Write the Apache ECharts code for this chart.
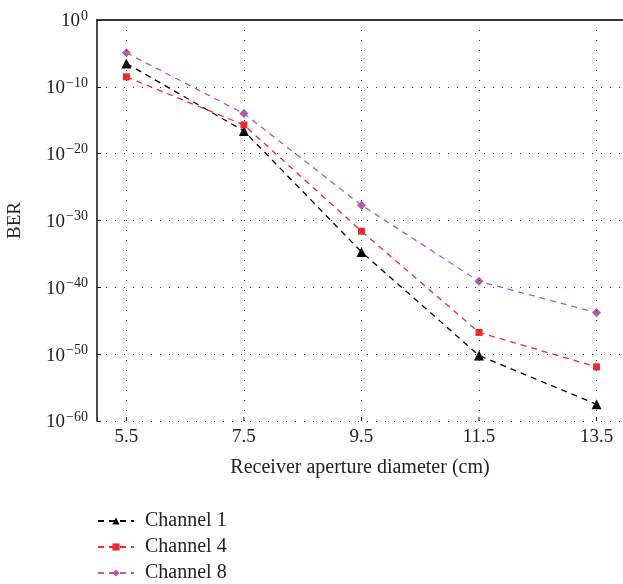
<!DOCTYPE html>
<html>
<head>
<meta charset="utf-8">
<script src="https://cdn.jsdelivr.net/npm/echarts@6/dist/echarts.min.js"></script>
<style>
  html, body { margin: 0; padding: 0; background: #fff; }
  #chart { width: 623px; height: 584px; }
</style>
</head>
<body>
<div id="chart"></div>
<script>
// Receiver aperture diameter (cm)
const diameters = [5.5, 7.5, 9.5, 11.5, 13.5];
// BER as log10 exponents per channel (the y axis is drawn in decades)
const channel1Exp = [-6.5, -16.6, -34.7, -50.2, -57.5];
const channel4Exp = [-8.5, -15.7, -31.6, -46.75, -51.9];
const channel8Exp = [-4.9, -14.0, -27.7, -39.1, -43.8];
const yTickExps = [0, -10, -20, -30, -40, -50, -60];

const serif = '"Liberation Serif", "DejaVu Serif", serif';
const textColor = '#222';
const toPairs = (exps) => diameters.map((d, i) => [d, exps[i]]);

const chart = echarts.init(document.getElementById('chart'), null, { renderer: 'canvas' });

function lineSeries(name, exps, color, symbol, size) {
  return {
    name: name,
    type: 'line',
    data: toPairs(exps),
    symbol: symbol,
    symbolSize: size,
    itemStyle: { color: color },
    lineStyle: { color: color, width: 1.3, type: [6, 5] },
    emphasis: { disabled: true },
    animation: false
  };
}

chart.setOption({
  backgroundColor: '#fff',
  animation: false,
  grid: { left: 97, top: 20, bottom: 163, right: 0, outerBoundsMode: 'none', containLabel: false },
  xAxis: [
    {
      type: 'value',
      min: 5, max: 13.95,
      name: 'Receiver aperture diameter (cm)',
      nameLocation: 'middle',
      nameGap: 37,
      nameTextStyle: { fontFamily: serif, fontSize: 20, color: textColor },
      axisLine: { lineStyle: { color: '#111', width: 1.5 } },
      axisTick: { show: false },
      splitLine: { show: false },
      axisLabel: { show: false }
    },
    {
      // top frame line
      type: 'value',
      position: 'top',
      min: 5, max: 13.95,
      axisLine: { show: true, lineStyle: { color: '#333', width: 1.5 } },
      axisTick: { show: false },
      splitLine: { show: false },
      axisLabel: { show: false }
    }
  ],
  yAxis: {
    type: 'value',
    min: -60, max: 0,
    interval: 10,
    name: 'BER',
    nameLocation: 'middle',
    nameGap: 72,
    nameTextStyle: { fontFamily: serif, fontSize: 19, color: textColor },
    axisLine: { show: true, lineStyle: { color: '#111', width: 1.5 } },
    axisTick: { show: true, inside: true, length: 4, lineStyle: { color: '#111' } },
    splitLine: { show: true, lineStyle: { color: '#333', width: 1, type: [1, 8] } },
    axisLabel: {
      margin: 9,
      formatter: function (e) {
        if (yTickExps.indexOf(e) < 0) return '';
        return '{b|10}{s|' + (e < 0 ? '\u2212' + (-e) : e) + '}';
      },
      rich: {
        b: { fontFamily: serif, fontSize: 19, color: textColor, verticalAlign: 'bottom', lineHeight: 22, padding: [0, 1, 0, 0] },
        s: { fontFamily: serif, fontSize: 14, color: textColor, verticalAlign: 'top', padding: [0, 0, 9, 0], lineHeight: 14 }
      }
    }
  },
  legend: {
    orient: 'vertical',
    left: 92, top: 506,
    height: 80,
    itemWidth: 36, itemHeight: 9,
    itemGap: 6,
    textStyle: { fontFamily: serif, fontSize: 20, lineHeight: 20, color: textColor, padding: [0, 0, 0, 6] },
    data: ['Channel 1', 'Channel 4', 'Channel 8']
  },
  series: [
    // vertical dotted guides at each diameter
    {
      type: 'line',
      data: [],
      markLine: {
        silent: true,
        symbol: 'none',
        animation: false,
        label: { show: false },
        lineStyle: { color: '#333', width: 1, type: [1, 9] },
        data: diameters.map(d => ({ xAxis: d }))
      }
    },
    lineSeries('Channel 1', channel1Exp, '#000000', 'triangle', 10),
    lineSeries('Channel 4', channel4Exp, '#ee2a2a', 'rect', 7),
    lineSeries('Channel 8', channel8Exp, '#b45aac', 'diamond', 9)
  ]
});

// x tick labels and inward ticks at each diameter, placed through the axis scale
function drawXTicks() {
  const g = [];
  diameters.forEach(d => {
    const p = chart.convertToPixel({ xAxisIndex: 0, yAxisIndex: 0 }, [d, -60]);
    g.push({
      type: 'line', silent: true,
      shape: { x1: p[0], y1: p[1], x2: p[0], y2: p[1] - 4 },
      style: { stroke: '#111', lineWidth: 1 }
    });
    g.push({
      type: 'text', silent: true,
      x: p[0], y: p[1] + 7,
      style: { text: String(d), fontFamily: serif, fontSize: 19, fill: textColor, align: 'center', verticalAlign: 'top' }
    });
  });
  chart.setOption({ graphic: g });
}
drawXTicks();
</script>
</body>
</html>
